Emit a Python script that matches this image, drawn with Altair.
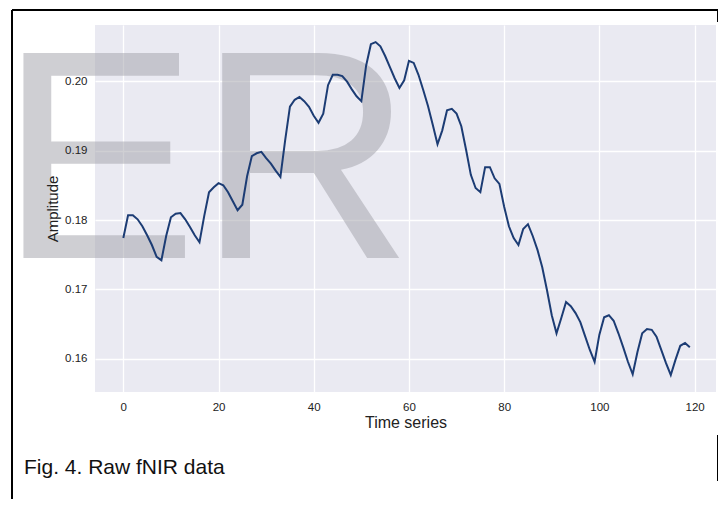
import altair as alt
import pandas as pd

# ---- data ----
time_series = list(range(120))
amplitude = [
    0.1774, 0.1807, 0.1807, 0.1801, 0.1791, 0.1778, 0.1764, 0.1747, 0.1742, 0.1777,
    0.1804, 0.1809, 0.1810, 0.1801, 0.1790, 0.1778, 0.1768, 0.1806, 0.1840, 0.1847,
    0.1853, 0.1850, 0.1840, 0.1827, 0.1814, 0.1822, 0.1863, 0.1892, 0.1896, 0.1898,
    0.1889, 0.1881, 0.1871, 0.1862, 0.1915, 0.1963, 0.1973, 0.1977, 0.1971, 0.1963,
    0.1950, 0.1940, 0.1953, 0.1994, 0.2009, 0.2009, 0.2007, 0.1999, 0.1988, 0.1978,
    0.1971, 0.2022, 0.2053, 0.2056, 0.2050, 0.2036, 0.2020, 0.2004, 0.1990, 0.2001,
    0.2029, 0.2026, 0.2009, 0.1987, 0.1964, 0.1937, 0.1909, 0.1929, 0.1958, 0.1960,
    0.1953, 0.1935, 0.1901, 0.1865, 0.1846, 0.1840, 0.1876, 0.1876, 0.1860, 0.1852,
    0.1819, 0.1791, 0.1774, 0.1764, 0.1787, 0.1794, 0.1777, 0.1757, 0.1732, 0.1699,
    0.1663, 0.1637, 0.1659, 0.1682, 0.1676, 0.1666, 0.1653, 0.1633, 0.1613, 0.1596,
    0.1635, 0.1660, 0.1663, 0.1655, 0.1637, 0.1617, 0.1596, 0.1578, 0.1610, 0.1637,
    0.1643, 0.1642, 0.1632, 0.1613, 0.1594, 0.1577, 0.1599, 0.1619, 0.1623, 0.1617,
]
x_ticks = [0, 20, 40, 60, 80, 100, 120]
y_ticks = [0.16, 0.17, 0.18, 0.19, 0.20]
x_title = "Time series"
y_title = "Amplitude"
caption = "Fig. 4. Raw fNIR data"
watermark = "ER"

df = pd.DataFrame({"t": time_series, "amp": amplitude})
one = pd.DataFrame({"k": [0]})

W, H = 621, 367
FONT = "Liberation Sans Narrow, Liberation Sans, Arial, sans-serif"
FONT_R = "Liberation Sans, Arial, sans-serif"

xscale = alt.Scale(domain=[-5.95, 124.5], nice=False, zero=False)
yscale = alt.Scale(domain=[0.15525, 0.20806], nice=False, zero=False)

# grid-only axes, drawn beneath the marks
line = alt.Chart(df).mark_line(color="#1c3c74", strokeWidth=2).encode(
    x=alt.X("t:Q", scale=xscale,
            axis=alt.Axis(orient="bottom", values=x_ticks, title=None, labels=False,
                          grid=True, ticks=False, domain=False, zindex=0,
                          gridColor="#ffffff", gridWidth=1.3)),
    y=alt.Y("amp:Q", scale=yscale,
            axis=alt.Axis(orient="left", values=y_ticks, title=None, labels=False,
                          grid=True, ticks=False, domain=False, zindex=0,
                          gridColor="#ffffff", gridWidth=1.3)),
)

# label/title axes, drawn above the watermark
labels = alt.Chart(df).mark_line(opacity=0).encode(
    x=alt.X("t:Q", scale=xscale,
            axis=alt.Axis(orient="bottom", values=x_ticks, title=x_title, grid=False,
                          ticks=False, domain=False, zindex=2,
                          labelPadding=9, labelFont=FONT, labelFontSize=11.5,
                          labelColor="#222222", titleFont=FONT_R, titleFontSize=16,
                          titleFontWeight="normal", titleColor="#222222",
                          titleX=W / 2, titleY=30, titleBaseline="middle")),
    y=alt.Y("amp:Q", scale=yscale,
            axis=alt.Axis(orient="left", values=y_ticks, format=".2f", title=y_title,
                          grid=False, ticks=False, domain=False, zindex=2,
                          labelPadding=8, labelFont=FONT, labelFontSize=11.5,
                          labelColor="#222222", titleFont=FONT_R, titleFontSize=15,
                          titleFontWeight="normal", titleColor="#222222",
                          titleX=-43, titleY=H / 2, titleBaseline="middle")),
)

wm = alt.Chart(one).mark_text(
    text=watermark, font=FONT_R, fontSize=298, align="left", baseline="alphabetic",
    color="#a8a8b0", opacity=0.55,
).encode(x=alt.value(-96), y=alt.value(233))

cap = alt.Chart(one).mark_text(
    text=caption, font=FONT_R, fontSize=21, align="left", baseline="alphabetic",
    color="#111111",
).encode(x=alt.value(-71), y=alt.value(449))

def rule(x, x2, y, y2):
    return alt.Chart(one).mark_rule(color="#000000", strokeWidth=2).encode(
        x=alt.value(x), x2=alt.value(x2), y=alt.value(y), y2=alt.value(y2))

borders = [
    rule(-83, 623, -15, -15),
    rule(-83, -83, -15, 480),
    rule(623, 623, -15, -3),
    rule(623, 623, 410, 456),
]

chart = alt.layer(wm, line, labels, cap, *borders).resolve_axis(
    x="independent", y="independent"
).properties(
    width=W, height=H,
    autosize=alt.AutoSizeParams(type="none"),
    padding={"left": 87, "top": 17, "right": 2, "bottom": 107},
    background="#ffffff",
).configure_view(fill="#EAEAF2", stroke=None)

chart.save("out.html", embed_options={"renderer": "svg", "actions": False})
